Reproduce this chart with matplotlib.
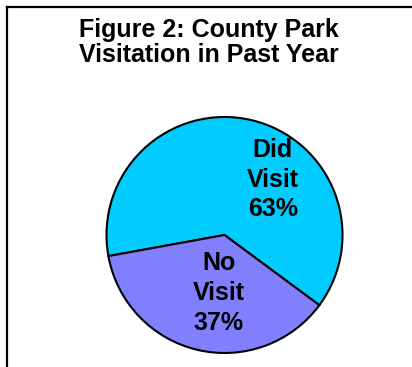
import matplotlib
matplotlib.use("Agg")
import matplotlib.pyplot as plt
from matplotlib.lines import Line2D

# Park visitation shares
categories = ["Did\nVisit", "No\nVisit"]
shares = [63, 37]
colors = ["#00CCFF", "#8080FF"]
label_pos = [(0.41, 0.47), (-0.05, -0.49)]
title_lines = ["Figure 2: County Park", "Visitation in Past Year"]

plt.rcParams["font.family"] = ["Liberation Sans", "DejaVu Sans"]

W, H = 412, 367
fig = plt.figure(figsize=(W / 100, H / 100), dpi=100)

# chart frame (left and top edges visible)
fig.add_artist(Line2D([7 / W, 7 / W], [0, 1 - 7 / H], transform=fig.transFigure,
                      color="black", linewidth=1.6))
fig.add_artist(Line2D([7 / W, 1.0], [1 - 7 / H, 1 - 7 / H], transform=fig.transFigure,
                      color="black", linewidth=1.6))

# title, one baseline per line
for line, base in zip(title_lines, [37, 62]):
    fig.text(209 / W, 1 - base / H, line, ha="center", va="baseline",
             fontsize=18, fontweight="bold")

cx, cy, r = 224.5, 235, 118
ax = fig.add_axes([(cx - r) / W, (H - cy - r) / H, 2 * r / W, 2 * r / H])
ax.pie(shares, colors=colors, startangle=-36.5, counterclock=True,
       wedgeprops=dict(edgecolor="black", linewidth=1.5))
ax.set_xlim(-1, 1)
ax.set_ylim(-1, 1)
ax.set_aspect("equal")
ax.axis("off")

for name, val, (x, y) in zip(categories, shares, label_pos):
    ax.text(x, y, f"{name}\n{val}%", ha="center", va="center",
            fontsize=18, fontweight="bold", linespacing=1.3)

fig.savefig("out.png", dpi=100, facecolor="white")
